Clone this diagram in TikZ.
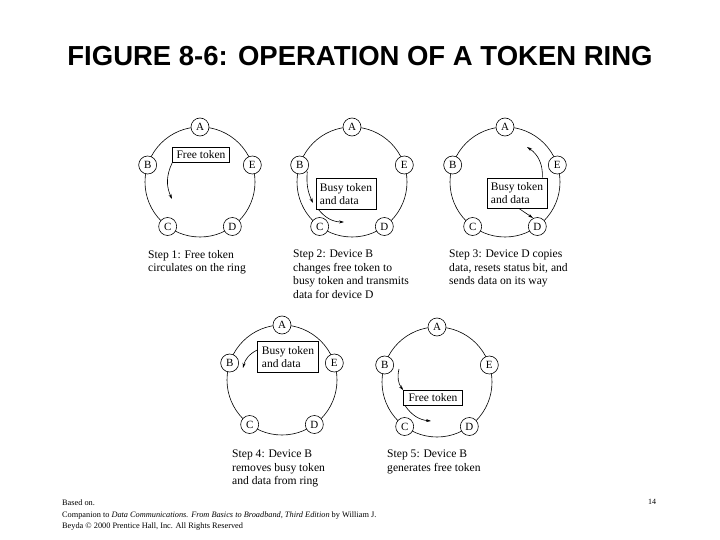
\documentclass[tikz,border=0pt]{standalone}
\usepackage{fontspec}
\setmainfont{Liberation Serif}
\newfontfamily\titlefont{Liberation Sans}
\usetikzlibrary{arrows.meta,calc}
\tikzset{
 ring/.style={draw,line width=0.6pt},
 dev/.style={circle,draw,fill=white,line width=0.6pt,minimum size=18pt,inner sep=0pt,font=\fontsize{11}{11}\selectfont},
 tok/.style={draw,fill=white,line width=0.6pt,align=left,inner sep=2pt,font=\fontsize{11.5}{13}\selectfont},
 arr/.style={-{Stealth[length=5pt,width=3pt]},line width=0.6pt},
 steptext/.style={anchor=north west,align=left,inner sep=0pt,font=\fontsize{11.6}{13.4}\selectfont}
}
\newcommand{\ringat}[3]{%
 \draw[ring] (#1,#2) circle (55);
 \node[dev] (#3A) at ($(#1,#2)+(-90:55)$) {A};
 \node[dev] (#3B) at ($(#1,#2)+(-162:55)$) {B};
 \node[dev] (#3C) at ($(#1,#2)+(-234:55)$) {C};
 \node[dev] (#3D) at ($(#1,#2)+(-306:55)$) {D};
 \node[dev] (#3E) at ($(#1,#2)+(-18:55)$) {E};
}
\begin{document}
\begin{tikzpicture}[x=1pt,y=-1pt]
\useasboundingbox (0,0) rectangle (720,540);
\node[font=\titlefont\bfseries\fontsize{27.5}{30}\selectfont] (title) at (360,56) {FIGURE 8-6: OPERATION OF A TOKEN RING};
% ring 1
\ringat{200}{182}{a}
\node[tok,minimum width=57pt,minimum height=15pt] (t1) at (201,155) {Free token};
\coordinate (e1) at (172,199);
\draw[arr] (t1.south west) to[bend right=25] (e1);
\node[steptext] (s1) at (148,250) {Step 1: Free token\\circulates on the ring};
% ring 2
\ringat{352}{182}{b}
\node[tok,minimum width=60pt,minimum height=31pt] (t2) at (346,194) {Busy token\\and data};
\coordinate (e2a) at (313,203);
\coordinate (e2b) at (344,222);
\draw[arr] ($(bB.south east)+(1,0)$) to[bend right=15] (e2a);
\draw[arr] ($(t2.south west)+(3,0)$) to[bend right=25] (e2b);
\node[steptext] (s2) at (293,250) {Step 2: Device B\\changes free token to\\busy token and transmits\\data for device D};
% ring 3
\ringat{505}{182}{c}
\node[tok,minimum width=60pt,minimum height=30pt] (t3) at (517,193) {Busy token\\and data};
\coordinate (e3a) at (527,147);
\coordinate (e3b) at (533,218);
\draw[arr] ($(t3.north east)+(-5,0)$) to[bend right=30] (e3a);
\draw[arr] ($(t3.south west)+(32,0)$) -- (e3b);
\node[steptext] (s3) at (449,250) {Step 3: Device D copies\\data, resets status bit, and\\sends data on its way};
% ring 4
\ringat{282}{380}{d}
\node[tok,minimum width=61pt,minimum height=31pt] (t4) at (288,357) {Busy token\\and data};
\coordinate (e4) at (243,368);
\draw[arr] ($(t4.west)+(0,-7)$) to[bend right=25] (e4);
\node[steptext] (s4) at (232,450) {Step 4: Device B\\removes busy token\\and data from ring};
% ring 5
\ringat{437}{382}{e}
\node[tok,minimum width=59pt,minimum height=15pt] (t5) at (433,398) {Free token};
\coordinate (s5a) at (399,369);
\coordinate (e5b) at (431,421);
\draw[arr] (s5a) to[bend right=25] (t5.north west);
\draw[arr] ($(t5.south west)+(2,0)$) to[bend right=25] (e5b);
\node[steptext] (s5) at (387,450) {Step 5: Device B\\generates free token};
% footer
\node[anchor=north west,align=left,inner sep=0pt,font=\fontsize{8.3}{11.5}\selectfont] (foot) at (62,500) {Based on.\\Companion to \textit{Data Communications. From Basics to Broadband, Third Edition} by William J.\\Beyda \textcopyright{} 2000 Prentice Hall, Inc. All Rights Reserved};
\node[font=\fontsize{8}{9}\selectfont] (pg) at (652,502) {14};
\end{tikzpicture}
\end{document}
